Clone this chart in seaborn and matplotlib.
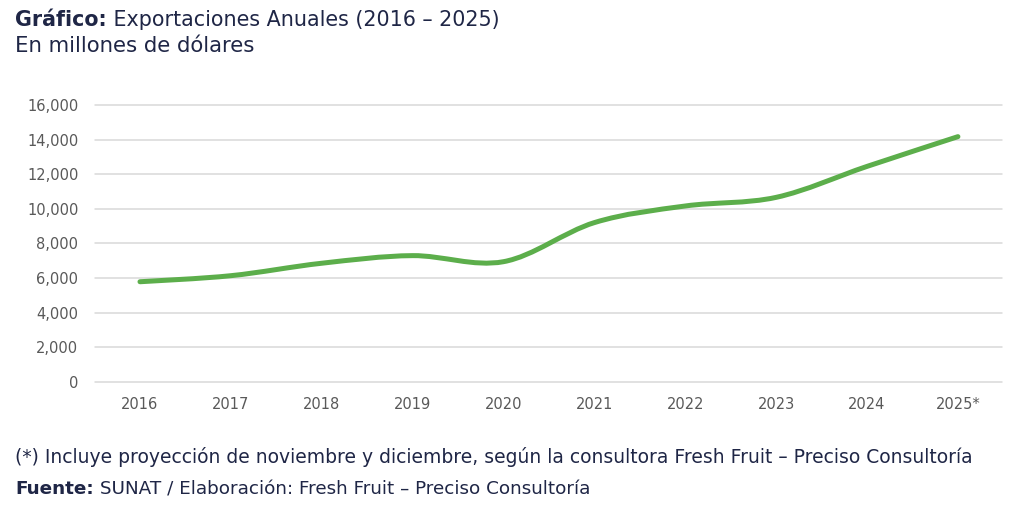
import numpy as np
import matplotlib.pyplot as plt
import seaborn as sns
from matplotlib.path import Path
from matplotlib.patches import PathPatch
from matplotlib.ticker import FuncFormatter

years = ["2016", "2017", "2018", "2019", "2020", "2021", "2022", "2023", "2024", "2025*"]
exports = [5780, 6130, 6850, 7290, 6940, 9200, 10160, 10660, 12450, 14170]
y_ticks = [0, 2000, 4000, 6000, 8000, 10000, 12000, 14000, 16000]

title_bold = "Gráfico:"
title_rest = " Exportaciones Anuales (2016 – 2025)"
subtitle = "En millones de dólares"
note = "(*) Incluye proyección de noviembre y diciembre, según la consultora Fresh Fruit – Preciso Consultoría"
source_bold = "Fuente:"
source_rest = " SUNAT / Elaboración: Fresh Fruit – Preciso Consultoría"

GREEN = "#5cae4b"
NAVY = "#1f2646"
GREY = "#595959"

sns.set_theme(style="whitegrid")
plt.rcParams["font.family"] = ["DejaVu Sans"]

fig = plt.figure(figsize=(10.24, 5.14), dpi=100)
W, H = 1024, 514
ax = fig.add_axes([95 / W, 1 - 381.7 / H, (1002 - 95) / W, (381.7 - 105) / H])


def smooth_path(xs, ys):
    # catmull-rom style bezier, like a spreadsheet "smoothed line"
    pts = np.column_stack([xs, ys]).astype(float)
    verts = [pts[0]]
    codes = [Path.MOVETO]
    n = len(pts)
    for i in range(n - 1):
        p0 = pts[max(i - 1, 0)]
        p1 = pts[i]
        p2 = pts[i + 1]
        p3 = pts[min(i + 2, n - 1)]
        c1 = p1 + (p2 - p0) / 6.0
        c2 = p2 - (p3 - p1) / 6.0
        verts += [c1, c2, p2]
        codes += [Path.CURVE4] * 3
    return Path(verts, codes)


xpos = np.arange(len(years))
patch = PathPatch(smooth_path(xpos, exports), facecolor="none", edgecolor=GREEN,
                  lw=3.6, capstyle="round", joinstyle="round", zorder=3)
ax.add_patch(patch)

ax.set_xlim(-0.495, len(years) - 1 + 0.485)
ax.set_ylim(0, 16000)
ax.set_xticks(xpos)
ax.set_xticklabels(years)
ax.set_yticks(y_ticks)
ax.yaxis.set_major_formatter(FuncFormatter(lambda v, p: f"{int(v):,}"))

ax.grid(axis="y", color="#d9d9d9", lw=1.1)
ax.grid(axis="x", visible=False)
for gl in ax.get_ygridlines():
    gl.set_clip_on(False)
sns.despine(ax=ax, left=True, bottom=True, top=True, right=True)
ax.set_facecolor("white")
ax.tick_params(axis="y", length=0, pad=12, labelsize=10.5, labelcolor=GREY)
ax.tick_params(axis="x", length=0, pad=11, labelsize=10.5, labelcolor=GREY)

# title block
t1 = fig.text(15 / W, 1 - 20 / H, title_bold, fontsize=14.9, fontweight="bold",
              color=NAVY, va="center", ha="left")
fig.canvas.draw()
bb = t1.get_window_extent()
fig.text(bb.x1 / W, 1 - 20 / H, title_rest, fontsize=14.9, color=NAVY, va="center", ha="left")
fig.text(15 / W, 1 - 46 / H, subtitle, fontsize=15.3, color=NAVY, va="center", ha="left")

# footer
fig.text(15 / W, 1 - 457 / H, note, fontsize=13.5, color=NAVY, va="center", ha="left")
s1 = fig.text(15 / W, 1 - 489 / H, source_bold, fontsize=13.2, fontweight="bold",
              color=NAVY, va="center", ha="left")
fig.canvas.draw()
bb = s1.get_window_extent()
fig.text(bb.x1 / W, 1 - 489 / H, source_rest, fontsize=13.2, color=NAVY, va="center", ha="left")

fig.savefig("out.png", dpi=100, facecolor="white")
